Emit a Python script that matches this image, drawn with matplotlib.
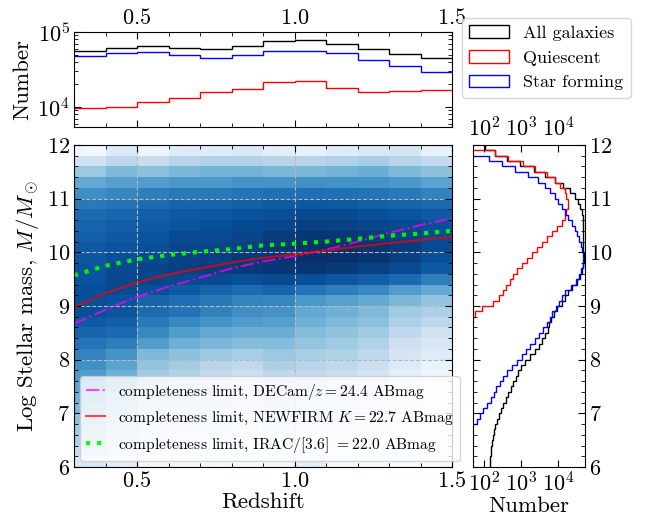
import numpy as np
import matplotlib
matplotlib.use('Agg')
import matplotlib.pyplot as plt
from matplotlib.patches import Patch
from matplotlib.ticker import MultipleLocator, LogLocator, NullLocator

plt.rcParams['font.family'] = 'serif'
plt.rcParams['font.serif'] = ['cmr10']
plt.rcParams['mathtext.fontset'] = 'cm'
plt.rcParams['axes.formatter.use_mathtext'] = True

# redshift bins (top histogram)
z_edges = [0.3, 0.4, 0.5, 0.6, 0.7, 0.8, 0.9, 1.0, 1.1, 1.2, 1.3, 1.4, 1.5]
nz_all = [56400, 60600, 64400, 61200, 60000, 65800, 75900, 77400, 69200, 58800, 50400, 44600]
nz_q = [9800, 10100, 11700, 13300, 15800, 17500, 21800, 22200, 17700, 15800, 16300, 16700]
nz_sf = [47900, 52000, 54100, 49400, 45500, 49400, 55800, 55800, 52000, 42700, 34900, 29600]

# stellar mass bins, 0.1 dex (right histogram), from 6.0 to 12.0
m_edges = np.round(np.arange(6.0, 12.01, 0.1), 2)
nm_all = [145, 148, 150, 155, 162, 170, 182, 195, 224, 250,
          282, 331, 380, 437, 525, 603, 708, 851, 1000, 1260,
          1780, 2400, 3020, 3800, 4570, 5250, 5750, 6600, 7940, 9550,
          12600, 15100, 18200, 24000, 32400, 39000, 45700, 49000, 50100, 50100,
          49000, 49000, 49000, 49000, 47900, 47900, 46800, 43600, 39800, 35500,
          28800, 21400, 14100, 8510, 4570, 2190, 955, 417, 200, 107]
nm_q = [0, 0, 0, 0, 0, 0, 0, 0, 0, 0,
        0, 0, 0, 0, 0, 0, 0, 0, 0, 0,
        0, 0, 0, 0, 0, 0, 0, 0, 55, 90,
        170, 250, 320, 390, 500, 620, 760, 1050, 1410, 1950,
        2630, 3630, 4900, 6760, 9330, 12600, 15500, 17000, 19000, 19000,
        17000, 15500, 11200, 8300, 4900, 2340, 1150, 457, 200, 0]
nm_sf = [0, 0, 0, 0, 0, 0, 0, 48, 63, 75,
         91, 120, 151, 186, 214, 275, 330, 417, 560, 800,
         1050, 1350, 1780, 2400, 3160, 4000, 5000, 5900, 7100, 8700,
         10700, 12600, 15500, 21900, 30200, 37200, 42700, 46800, 47900, 46800,
         44700, 41700, 37200, 33100, 28800, 23400, 19000, 15500, 12600, 10200,
         8300, 6000, 4470, 2950, 1580, 690, 300, 132, 0, 0]

# 2D density, colour level on Blues (0-1), rows 0.2 dex from 6.0 (bottom) to 12.0
grid_m_edges = np.round(np.arange(6.0, 12.01, 0.2), 2)
density_level = [
    [0.16, 0.10, 0.04, 0.04, 0.03, 0.02, 0.03, 0.10, 0.02, 0.02, 0.01, 0.00],
    [0.24, 0.14, 0.08, 0.07, 0.05, 0.04, 0.05, 0.06, 0.04, 0.03, 0.01, 0.01],
    [0.33, 0.18, 0.12, 0.10, 0.08, 0.06, 0.08, 0.08, 0.06, 0.04, 0.02, 0.01],
    [0.37, 0.23, 0.16, 0.13, 0.11, 0.08, 0.11, 0.10, 0.08, 0.06, 0.03, 0.01],
    [0.41, 0.28, 0.20, 0.17, 0.14, 0.10, 0.14, 0.12, 0.11, 0.08, 0.04, 0.02],
    [0.45, 0.33, 0.24, 0.20, 0.17, 0.13, 0.17, 0.15, 0.14, 0.10, 0.05, 0.02],
    [0.49, 0.38, 0.28, 0.24, 0.20, 0.16, 0.20, 0.18, 0.17, 0.12, 0.06, 0.03],
    [0.54, 0.44, 0.32, 0.28, 0.23, 0.19, 0.24, 0.22, 0.20, 0.15, 0.08, 0.04],
    [0.58, 0.49, 0.36, 0.32, 0.26, 0.22, 0.28, 0.26, 0.23, 0.18, 0.10, 0.05],
    [0.63, 0.55, 0.40, 0.36, 0.30, 0.27, 0.33, 0.30, 0.27, 0.22, 0.13, 0.07],
    [0.68, 0.62, 0.45, 0.42, 0.38, 0.35, 0.38, 0.35, 0.32, 0.28, 0.17, 0.12],
    [0.74, 0.70, 0.58, 0.49, 0.46, 0.43, 0.44, 0.40, 0.37, 0.32, 0.21, 0.16],
    [0.80, 0.78, 0.66, 0.58, 0.52, 0.50, 0.50, 0.44, 0.41, 0.37, 0.27, 0.20],
    [0.84, 0.82, 0.72, 0.66, 0.62, 0.58, 0.57, 0.49, 0.45, 0.42, 0.33, 0.28],
    [0.88, 0.86, 0.77, 0.74, 0.69, 0.64, 0.62, 0.52, 0.49, 0.45, 0.37, 0.33],
    [0.88, 0.87, 0.80, 0.76, 0.72, 0.68, 0.67, 0.60, 0.56, 0.52, 0.46, 0.40],
    [0.88, 0.90, 0.88, 0.84, 0.80, 0.77, 0.80, 0.74, 0.70, 0.66, 0.58, 0.52],
    [0.87, 0.91, 0.92, 0.91, 0.90, 0.88, 0.90, 0.88, 0.85, 0.82, 0.78, 0.70],
    [0.86, 0.90, 0.92, 0.94, 0.95, 0.96, 0.97, 0.98, 0.96, 0.93, 0.90, 0.84],
    [0.85, 0.88, 0.90, 0.93, 0.94, 0.96, 0.98, 1.00, 1.00, 0.98, 0.94, 0.88],
    [0.84, 0.86, 0.88, 0.92, 0.92, 0.94, 0.97, 1.00, 1.00, 0.98, 0.95, 0.90],
    [0.82, 0.84, 0.86, 0.90, 0.90, 0.92, 0.95, 0.97, 0.97, 0.95, 0.93, 0.90],
    [0.80, 0.82, 0.84, 0.86, 0.88, 0.90, 0.92, 0.94, 0.93, 0.92, 0.90, 0.88],
    [0.77, 0.79, 0.82, 0.84, 0.85, 0.87, 0.89, 0.90, 0.90, 0.88, 0.86, 0.84],
    [0.72, 0.74, 0.77, 0.80, 0.80, 0.82, 0.84, 0.85, 0.84, 0.82, 0.80, 0.78],
    [0.64, 0.67, 0.70, 0.72, 0.72, 0.74, 0.75, 0.76, 0.75, 0.74, 0.72, 0.68],
    [0.52, 0.56, 0.58, 0.60, 0.60, 0.62, 0.62, 0.63, 0.62, 0.62, 0.60, 0.55],
    [0.38, 0.45, 0.42, 0.46, 0.48, 0.48, 0.46, 0.46, 0.48, 0.50, 0.45, 0.42],
    [0.20, 0.28, 0.24, 0.30, 0.32, 0.32, 0.30, 0.30, 0.32, 0.35, 0.30, 0.26],
    [0.04, 0.14, 0.05, 0.12, 0.12, 0.15, 0.10, 0.08, 0.12, 0.15, 0.18, 0.08],
]

# completeness limits
z_lim = [0.3, 0.4, 0.5, 0.6, 0.7, 0.8, 0.9, 1.0, 1.1, 1.2, 1.3, 1.4, 1.5]
lim_decam = [8.67, 8.93, 9.17, 9.36, 9.53, 9.70, 9.83, 9.93, 10.05, 10.20, 10.36, 10.51, 10.63]
lim_newfirm = [8.98, 9.24, 9.44, 9.59, 9.70, 9.81, 9.90, 9.96, 10.03, 10.11, 10.17, 10.23, 10.29]
lim_irac = [9.57, 9.75, 9.87, 9.95, 10.01, 10.06, 10.13, 10.16, 10.20, 10.25, 10.31, 10.35, 10.40]

fig = plt.figure(figsize=(6.46, 5.19), dpi=100)
ax_main = fig.add_axes([0.1146, 0.1002, 0.5851, 0.6204])
ax_top = fig.add_axes([0.1146, 0.7553, 0.5851, 0.1830])
ax_right = fig.add_axes([0.7322, 0.1002, 0.1734, 0.6204])

tick_kw = dict(direction='in', top=True, right=True, labelsize=16, pad=3)

# main panel
ax_main.pcolormesh(z_edges, grid_m_edges, np.array(density_level), cmap='Blues', vmin=0, vmax=1)
ax_main.plot(z_lim, lim_decam, color='#ff00ff', alpha=0.7, ls='-.', lw=1.5,
             label=r'completeness limit, DECam$/z=24.4$ ABmag')
ax_main.plot(z_lim, lim_newfirm, color='red', alpha=0.7, ls='-', lw=1.5,
             label=r'completeness limit, NEWFIRM $K=22.7$ ABmag')
ax_main.plot(z_lim, lim_irac, color='#00ff00', alpha=0.95, ls=':', lw=3,
             label=r'completeness limit, IRAC/[3.6] $=22.0$ ABmag')
ax_main.set_xlim(0.3, 1.5)
ax_main.set_ylim(6, 12)
ax_main.xaxis.set_major_locator(MultipleLocator(0.5))
ax_main.xaxis.set_minor_locator(MultipleLocator(0.1))
ax_main.yaxis.set_major_locator(MultipleLocator(1))
ax_main.yaxis.set_minor_locator(MultipleLocator(0.2))
ax_main.tick_params(which='both', **tick_kw)
ax_main.tick_params(which='major', length=5)
ax_main.tick_params(which='minor', length=3)
ax_main.grid(True, which='major', ls='--', color='#b8b8b8', lw=0.8)
ax_main.set_xlabel('Redshift', fontsize=16.5, labelpad=1)
ax_main.set_ylabel(r'Log Stellar mass, $M/M_\odot$', fontsize=16.5)
ax_main.legend(loc='lower left', fontsize=11.2, framealpha=0.8, borderaxespad=0.4,
               handlelength=1.2, handletextpad=0.8)

# top panel
ax_top.stairs(nz_all, z_edges, baseline=None, color='black', lw=1)
ax_top.stairs(nz_q, z_edges, baseline=None, color='red', lw=1)
ax_top.stairs(nz_sf, z_edges, baseline=None, color='blue', lw=1)
ax_top.set_yscale('log')
ax_top.set_xlim(0.3, 1.5)
ax_top.set_ylim(5400, 1e5)
ax_top.xaxis.set_major_locator(MultipleLocator(0.5))
ax_top.xaxis.set_minor_locator(MultipleLocator(0.1))
ax_top.yaxis.set_major_locator(LogLocator(base=10))
ax_top.yaxis.set_minor_locator(LogLocator(base=10, subs=np.arange(2, 10)))
ax_top.tick_params(which='both', labeltop=True, labelbottom=False, **tick_kw)
ax_top.tick_params(which='major', length=5)
ax_top.tick_params(which='minor', length=3)
ax_top.set_ylabel('Number', fontsize=16.5)

# right panel
ax_right.stairs(nm_all, m_edges, orientation='horizontal', baseline=None, color='black', lw=1)
ax_right.stairs(nm_q, m_edges, orientation='horizontal', baseline=None, color='red', lw=1)
ax_right.stairs(nm_sf, m_edges, orientation='horizontal', baseline=None, color='blue', lw=1)
ax_right.set_xscale('log')
ax_right.set_xlim(50, 54000)
ax_right.set_ylim(6, 12)
ax_right.xaxis.set_major_locator(LogLocator(base=10))
ax_right.xaxis.set_minor_locator(NullLocator())
ax_right.yaxis.set_major_locator(MultipleLocator(1))
ax_right.yaxis.set_minor_locator(MultipleLocator(0.2))
ax_right.tick_params(which='both', labeltop=True, labelright=True, labelleft=False, **tick_kw)
ax_right.tick_params(which='major', length=5)
ax_right.tick_params(which='minor', length=3)
ax_right.set_xlabel('Number', fontsize=16.5, labelpad=1)

handles = [Patch(facecolor='none', edgecolor=c, label=l)
           for c, l in [('black', 'All galaxies'), ('red', 'Quiescent'), ('blue', 'Star forming')]]
fig.legend(handles=handles, loc='upper left', bbox_to_anchor=(0.715, 0.965),
           borderaxespad=0, fontsize=13, framealpha=0.8, handlelength=2.2)

fig.savefig('out.png', dpi=100)
